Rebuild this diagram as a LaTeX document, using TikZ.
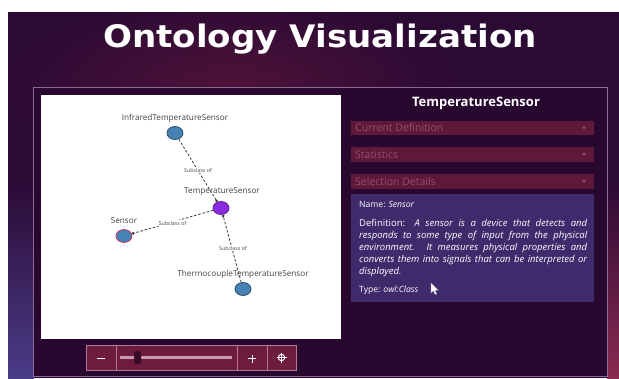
\documentclass[tikz,border=0pt]{standalone}
\usepackage{fontspec}
\setmainfont{Open Sans}
\newfontfamily\titlefont{DejaVu Sans}
\usetikzlibrary{shapes.geometric,arrows.meta}
\definecolor{bgbase}{HTML}{2B0A34}
\definecolor{bgglow}{HTML}{4E1238}
\definecolor{bgblue}{HTML}{4A3C88}
\definecolor{bgred}{HTML}{8A2A50}
\definecolor{panelbg}{HTML}{290830}
\definecolor{panelline}{HTML}{8C6A98}
\definecolor{ddfill}{HTML}{5E1838}
\definecolor{ddtext}{HTML}{94506F}
\definecolor{infofill}{HTML}{3F2B6C}
\definecolor{ctlfill}{HTML}{6E1C3E}
\definecolor{ctlline}{HTML}{B07894}
\definecolor{slidertrack}{HTML}{C898B0}
\definecolor{sliderthumb}{HTML}{3A0A28}
\definecolor{nodeblue}{HTML}{4682B4}
\definecolor{nodeblueline}{HTML}{2A4A6A}
\definecolor{nodepurple}{HTML}{8A2BE2}
\definecolor{nodepurpleline}{HTML}{5A1A90}
\definecolor{sensorline}{HTML}{C8406A}
\definecolor{edgegray}{HTML}{3A3A3A}
\definecolor{labelgray}{HTML}{444444}
\definecolor{cursorline}{HTML}{999999}
\tikzset{
  gnode/.style={ellipse, draw=nodeblueline, fill=nodeblue, line width=0.8pt, minimum width=16pt, minimum height=13pt, inner sep=0pt},
  glabel/.style={text=labelgray, font=\fontsize{8.2}{9}\selectfont, inner sep=0pt},
  elabel/.style={text=labelgray, font=\fontsize{5.3}{6}\selectfont, fill=white, inner sep=0.6pt},
  edge/.style={draw=edgegray, line width=0.8pt, dash pattern=on 2.5pt off 1.8pt, -{Circle[length=2.6pt]}},
  ddlabel/.style={text=ddtext, font=\fontsize{10.5}{12}\selectfont, anchor=west, inner sep=0pt},
  ctlbox/.style={fill=ctlfill, draw=ctlline, line width=0.6pt},
  infotext/.style={text=white, font=\fontsize{8.6}{12.1}\selectfont, inner sep=0pt, anchor=north west},
  deftext/.style={text=white, font=\fontsize{9.5}{12.1}\selectfont, inner sep=0pt, anchor=north west, text width=228pt, align=justify}
}
\begin{document}
\begin{tikzpicture}[x=1pt,y=-1pt]
\useasboundingbox (0,0) rectangle (619,378);
\fill[white] (0,0) rectangle (619,378);
% background
\begin{scope}
\clip (8,12) rectangle (619,378);
\fill[bgbase] (8,12) rectangle (619,378);
\shade[inner color=bgglow, outer color=bgbase] (230,85) ellipse (230 and 90);
\shade[top color=bgbase, bottom color=bgblue] (8,180) rectangle (34,378);
\shade[top color=bgbase, bottom color=bgred] (607,180) rectangle (619,378);
\end{scope}
% title
\node[anchor=base, inner sep=0pt] (title) at (320,47) {\scalebox{1.1}[1]{\titlefont\bfseries\fontsize{31}{36}\selectfont\color{white}Ontology Visualization}};
% main panel
\draw[fill=panelbg, draw=panelline, line width=1.5pt] (33.5,87.5) rectangle (607.5,376.5);
% canvas
\fill[white] (41,95) rectangle (341,339);
% graph
\node[gnode] (inf) at (175,133) {};
\node[gnode, fill=nodepurple, draw=nodepurpleline] (temp) at (221,208) {};
\node[gnode, draw=sensorline] (sen) at (124,236) {};
\node[gnode] (thermo) at (243,289) {};
\draw[edge] (inf) -- (temp) node[elabel, midway] {Subclass of};
\draw[edge] (temp) -- (sen) node[elabel, midway, yshift=-1pt] {Subclass of};
\draw[edge] (thermo) -- (temp) node[elabel, midway, xshift=1pt] {Subclass of};
\node[glabel] (infl) at (175,118) {InfraredTemperatureSensor};
\node[glabel] (templ) at (222,192) {TemperatureSensor};
\node[glabel] (senl) at (124,221) {Sensor};
\node[glabel] (thermol) at (243,274) {ThermocoupleTemperatureSensor};
% zoom controls
\draw[ctlbox] (86,345) rectangle (116,370);
\draw[ctlbox] (116,345) rectangle (237,370);
\draw[ctlbox] (237,345) rectangle (267,370);
\draw[ctlbox] (267,345) rectangle (296,370);
\draw[white, line width=1pt] (97,358.5) -- (105,358.5);
\draw[slidertrack, line width=3pt] (120,357.5) -- (232,357.5);
\fill[sliderthumb, rounded corners=2pt] (134,351) rectangle (141,364);
\draw[white, line width=1pt] (248,358.5) -- (256,358.5) (252,354.5) -- (252,362.5);
\begin{scope}[white, line width=0.9pt]
\draw (281.5,357.5) circle (3.2);
\draw (276.5,357.5) -- (286.5,357.5);
\draw (281.5,352.5) -- (281.5,362.5);
\end{scope}
% right panel
\node[text=white, font=\bfseries\fontsize{13}{15}\selectfont] (head) at (476,103) {TemperatureSensor};
\fill[ddfill] (351,121) rectangle (594,135);
\fill[ddfill] (351,147) rectangle (594,162);
\fill[ddfill] (351,174) rectangle (594,189);
\node[ddlabel] (dd1) at (355,128) {Current Definition};
\node[ddlabel] (dd2) at (355,154.5) {Statistics};
\node[ddlabel] (dd3) at (355,181.5) {Selection Details};
\fill[ddtext] (582,126.5) -- (586,126.5) -- (584,129.5) -- cycle;
\fill[ddtext] (582,153) -- (586,153) -- (584,156) -- cycle;
\fill[ddtext] (582,180) -- (586,180) -- (584,183) -- cycle;
\fill[infofill] (351,194) rectangle (594,302);
\node[infotext] (name) at (359,201) {Name: \textit{Sensor}};
\node[deftext] (def) at (359,219) {Definition: \textit{A sensor is a device that detects and\linebreak responds to some type of input from the physical\linebreak environment. It measures physical properties and\linebreak converts them into signals that can be interpreted or\linebreak displayed.}};
\node[infotext] (type) at (359,285.5) {Type: \textit{owl:Class}};
% cursor
\fill[white, draw=cursorline, line width=0.3pt] (431,283) -- (431,293) -- (433.4,290.8) -- (435.2,294.6) -- (436.8,293.9) -- (435,290.2) -- (438.3,290.2) -- cycle;
\end{tikzpicture}
\end{document}
